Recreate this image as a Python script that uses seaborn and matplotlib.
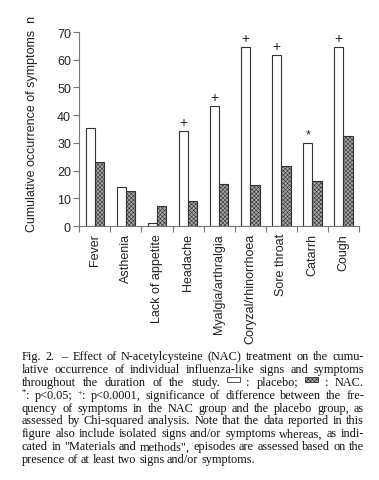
import pandas as pd
import matplotlib
matplotlib.use("Agg")
import matplotlib.pyplot as plt
import seaborn as sns
from matplotlib.patches import Rectangle

# Data
symptoms = ["Fever", "Asthenia", "Lack of appetite", "Headache", "Myalgia/arthralgia",
            "Coryzal/rhinorrhoea", "Sore throat", "Catarrh", "Cough"]
placebo = [35.3, 14.0, 1.1, 34.1, 43.3, 64.5, 61.6, 29.9, 64.5]
nac = [23.0, 12.7, 7.2, 8.9, 15.3, 14.7, 21.7, 16.1, 32.4]
signif = ["", "", "", "+", "+", "+", "+", "*", "+"]
groups = ["placebo", "NAC"]

# "^x" marks a superscript sign glued to the start of a word
caption_lines = [
    ["Fig.", "2.", " –", "Effect", "of", "N-acetylcysteine", "(NAC)", "treatment", "on", "the", "cumu-"],
    "lative occurrence of individual influenza-like signs and symptoms".split(),
    "throughout the duration of the study.".split() + ["[box]", ":", "placebo;", "[hbox]", ":", "NAC."],
    ["^*:", "p<0.05;", "^+:", "p<0.0001,"] + "significance of difference between the fre-".split(),
    "quency of symptoms in the NAC group and the placebo group, as".split(),
    "assessed by Chi-squared analysis. Note that the data reported in this".split(),
    "figure also include isolated signs and/or symptoms whereas, as indi-".split(),
    'cated in "Materials and methods", episodes are assessed based on the'.split(),
    "presence of at least two signs and/or symptoms.".split(),
]

df = pd.DataFrame({
    "symptom": symptoms * 2,
    "group": [groups[0]] * len(symptoms) + [groups[1]] * len(symptoms),
    "value": placebo + nac,
})

sns.set_style("ticks")
plt.rcParams["font.family"] = ["Liberation Sans", "DejaVu Sans"]
plt.rcParams["hatch.color"] = "#5a5a5a"
plt.rcParams["hatch.linewidth"] = 0.4

W, H = 379, 481
fig = plt.figure(figsize=(W / 100, H / 100), dpi=100)
ax = fig.add_axes([79.3 / W, 1 - 227 / H, (359 - 79.3) / W, (227 - 33) / H])

sns.barplot(data=df, x="symptom", y="value", hue="group", palette=["white", "#a4a4a4"],
            width=0.6, gap=0, edgecolor="#333333", linewidth=0.8, legend=False, ax=ax)
for bar in ax.containers[1]:
    bar.set_hatch("xxxxxxxx")

for bar, s in zip(ax.containers[0], signif):
    if s:
        ax.text(bar.get_x() + bar.get_width() / 2, bar.get_height() + 0.8, s,
                ha="center", va="bottom", fontsize=10 if s == "+" else 9, color="#222222")

ax.set_xlim(-0.5, len(symptoms) - 0.5)
ax.set_ylim(0, 70)
ax.set_yticks(range(0, 71, 10))
ax.set_xlabel("")
ax.set_ylabel("")
ax.set_xticks(range(len(symptoms)))
ax.set_xticklabels(symptoms, rotation=90, fontsize=9, color="#222222")
ax.set_xticks([i - 0.5 for i in range(len(symptoms) + 1)], minor=True)
ax.tick_params(axis="x", which="major", length=0, pad=5)
ax.tick_params(axis="x", which="minor", length=4, width=0.8, color="#777777")
ax.tick_params(axis="y", length=4, width=0.8, color="#777777", labelsize=9,
               labelcolor="#222222", pad=2)
for sp in ["left", "bottom"]:
    ax.spines[sp].set_color("#777777")
    ax.spines[sp].set_linewidth(0.8)
sns.despine(ax=ax)

fig.text(32 / W, 1 - 124 / H, "Cumulative occurrence of symptoms  n", rotation=90,
         ha="center", va="center", fontsize=9, color="#222222")

# Caption, justified line by line
renderer = fig.canvas.get_renderer()
x0, x1 = 22, 364
cap_size = 8.8


def make_text(s, size):
    t = fig.text(0, 0, s, fontsize=size, family="Liberation Serif",
                 transform=None, va="baseline", color="#111111")
    return t, t.get_window_extent(renderer).width


for i, words in enumerate(caption_lines):
    base = 360 + 12.9 * i
    items = []
    for w in words:
        if w in ("[box]", "[hbox]"):
            items.append((w, 13.0))
        elif w.startswith("^"):
            sup, sw = make_text(w[1], cap_size * 0.7)
            rest, rw = make_text(w[2:], cap_size)
            items.append(([(sup, 0, 3.5), (rest, sw, 0)], sw + rw))
        else:
            t, tw = make_text(w, cap_size)
            items.append(([(t, 0, 0)], tw))
    total = sum(wd for _, wd in items)
    last = i == len(caption_lines) - 1
    gap = 2.8 if last else (x1 - x0 - total) / (len(items) - 1)
    x = x0
    for it, wd in items:
        if isinstance(it, str):
            fc = "white" if it == "[box]" else "#a4a4a4"
            r = Rectangle((x / W, 1 - (base - 3.0) / H), wd / W, 4.5 / H,
                          transform=fig.transFigure, facecolor=fc, edgecolor="#333333",
                          linewidth=0.6, hatch=None if it == "[box]" else "xxxxxxxx")
            fig.add_artist(r)
        else:
            for t, dx, dy in it:
                t.set_transform(fig.transFigure)
                t.set_position(((x + dx) / W, 1 - (base - dy) / H))
        x += wd + gap

fig.savefig("out.png", dpi=100)
